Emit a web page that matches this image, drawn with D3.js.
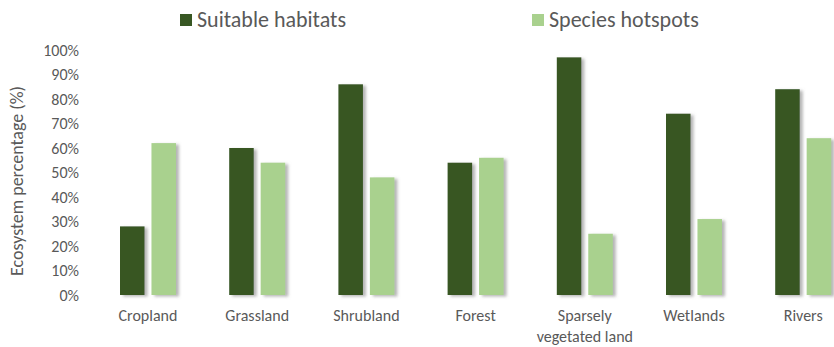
<!DOCTYPE html>
<html>
<head>
<meta charset="utf-8">
<script src="https://cdn.jsdelivr.net/npm/d3@7"></script>
<style>
  html, body { margin: 0; padding: 0; background: #fff; }
  svg { display: block; }
  text { font-family: Carlito, Calibri, Lato, "Open Sans", sans-serif; fill: #595959; }
</style>
</head>
<body>
<svg id="chart" width="834" height="347"></svg>
<script>
// Ecosystem categories along the x axis
const categories = ["Cropland", "Grassland", "Shrubland", "Forest", "Sparsely\nvegetated land", "Wetlands", "Rivers"];
// Share of each ecosystem (fraction of 1)
const suitableHabitats = [0.28, 0.60, 0.86, 0.54, 0.97, 0.74, 0.84];
const speciesHotspots  = [0.62, 0.54, 0.48, 0.56, 0.25, 0.31, 0.64];
const seriesNames = ["Suitable habitats", "Species hotspots"];
const seriesColors = ["#385723", "#A9D18E"];
const yTicks = [0, 0.1, 0.2, 0.3, 0.4, 0.5, 0.6, 0.7, 0.8, 0.9, 1.0];

const seriesValues = [suitableHabitats, speciesHotspots];
const rows = categories.map((c, i) => ({
  category: c,
  values: seriesNames.map((s, j) => ({ series: s, value: seriesValues[j][i], color: seriesColors[j] }))
}));

const svg = d3.select("#chart");

const defs = svg.append("defs");
const shadow = defs.append("filter").attr("id", "barShadow")
  .attr("x", "-20%").attr("y", "-10%").attr("width", "160%").attr("height", "130%");
shadow.append("feDropShadow")
  .attr("dx", 3).attr("dy", 1.5).attr("stdDeviation", 1.4)
  .attr("flood-color", "#7a7a7a").attr("flood-opacity", 0.55);

const x0 = d3.scaleBand().domain(categories).range([93.4, 857.8]).padding(0);
const x1 = d3.scaleBand().domain(seriesNames).range([-28, 28]).paddingInner(0.22);
const y = d3.scaleLinear().domain([0, 1]).range([295, 50]);

// Y axis (labels only)
const yAxis = svg.append("g")
  .attr("transform", "translate(84,0)")
  .call(d3.axisLeft(y).tickValues(yTicks).tickSize(0).tickPadding(5).tickFormat(d3.format(".0%")));
yAxis.select(".domain").remove();
yAxis.selectAll("text").attr("font-size", 16).attr("font-family", null);

// Y axis title
svg.append("text")
  .attr("transform", "translate(19,181) rotate(-90)")
  .attr("text-anchor", "middle")
  .attr("dominant-baseline", "middle")
  .attr("font-size", 18)
  .text("Ecosystem percentage (%)");

// Bars
const groups = svg.append("g").selectAll("g")
  .data(rows).join("g")
  .attr("transform", d => `translate(${x0(d.category) + x0.bandwidth() / 2},0)`);

groups.selectAll("rect")
  .data(d => d.values).join("rect")
  .attr("x", d => x1(d.series))
  .attr("width", x1.bandwidth())
  .attr("y", d => y(d.value))
  .attr("height", d => y(0) - y(d.value))
  .attr("fill", d => d.color)
  .attr("filter", "url(#barShadow)");

// Category labels (may wrap onto two lines)
const xLabels = svg.append("g").selectAll("text")
  .data(categories).join("text")
  .attr("x", d => x0(d) + x0.bandwidth() / 2)
  .attr("y", 321)
  .attr("text-anchor", "middle")
  .attr("font-size", 16);
xLabels.each(function(d) {
  const lines = d.split("\n");
  const t = d3.select(this);
  lines.forEach((line, i) => {
    t.append("tspan")
      .attr("x", x0(d) + x0.bandwidth() / 2)
      .attr("dy", i === 0 ? 0 : 21)
      .text(line);
  });
});

// Legend
const legendX = [180, 532];
const legend = svg.append("g").selectAll("g")
  .data(seriesNames).join("g")
  .attr("transform", (d, i) => `translate(${legendX[i]},14)`);
legend.append("rect")
  .attr("width", 12).attr("height", 12)
  .attr("fill", (d, i) => seriesColors[i]);
legend.append("text")
  .attr("x", 17).attr("y", 13)
  .attr("font-size", 22)
  .text(d => d);
</script>
</body>
</html>
